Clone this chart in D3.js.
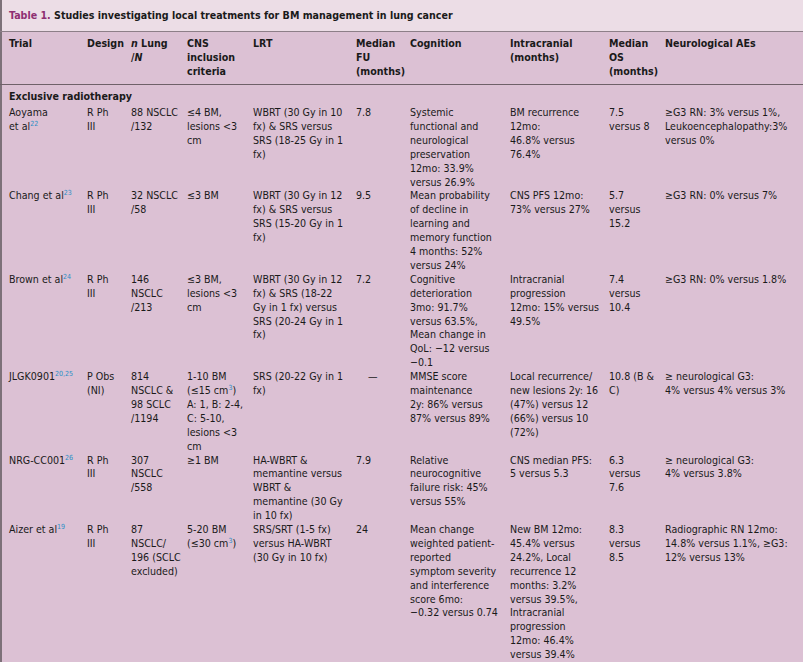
<!DOCTYPE html>
<html><head><meta charset="utf-8">
<script src="https://cdn.jsdelivr.net/npm/d3@7"></script>
<style>body{margin:0;background:#fff}text{font-family:"Liberation Sans Narrow","DejaVu Sans Condensed",sans-serif;font-size:10.6px;fill:#1a1a1a}</style>
</head><body><div id="chart"></div>
<script>
const width = 803, height = 662;

const title = "Studies investigating local treatments for BM management in lung cancer";
const columns = ["Trial", "Design", "n Lung", "CNS", "LRT", "Median FU", "Cognition", "Intracranial", "Median OS", "Neurological AEs"];
const colX = [9, 87, 131, 187, 253, 356, 410, 510, 609, 665];
const headers = [
  ["Trial"], ["Design"], ["_n_ Lung", "/_N_"], ["CNS", "inclusion", "criteria"], ["LRT"],
  ["Median", "FU", "(months)"], ["Cognition"], ["Intracranial", "(months)"], ["Median", "OS", "(months)"], ["Neurological AEs"]
];
const section = "Exclusive radiotherapy";

const rows = [
  [["Aoyama", "et al^{22}"], ["R Ph", "III"], ["88 NSCLC", "/132"], ["≤4 BM,", "lesions <3", "cm"],
   ["WBRT (30 Gy in 10", "fx) & SRS versus", "SRS (18-25 Gy in 1", "fx)"], ["7.8"],
   ["Systemic", "functional and", "neurological", "preservation", "12mo: 33.9%", "versus 26.9%"],
   ["BM recurrence", "12mo:", "46.8% versus", "76.4%"], ["7.5", "versus 8"],
   ["≥G3 RN: 3% versus 1%,", "Leukoencephalopathy:3%", "versus 0%"]],
  [["Chang et al^{23}"], ["R Ph", "III"], ["32 NSCLC", "/58"], ["≤3 BM"],
   ["WBRT (30 Gy in 12", "fx) & SRS versus", "SRS (15-20 Gy in 1", "fx)"], ["9.5"],
   ["Mean probability", "of decline in", "learning and", "memory function", "4 months: 52%", "versus 24%"],
   ["CNS PFS 12mo:", "73% versus 27%"], ["5.7", "versus", "15.2"], ["≥G3 RN: 0% versus 7%"]],
  [["Brown et al^{24}"], ["R Ph", "III"], ["146", "NSCLC", "/213"], ["≤3 BM,", "lesions <3", "cm"],
   ["WBRT (30 Gy in 12", "fx) & SRS (18-22", "Gy in 1 fx) versus", "SRS (20-24 Gy in 1", "fx)"], ["7.2"],
   ["Cognitive", "deterioration", "3mo: 91.7%", "versus 63.5%,", "Mean change in", "QoL: −12 versus", "−0.1"],
   ["Intracranial", "progression", "12mo: 15% versus", "49.5%"], ["7.4", "versus", "10.4"], ["≥G3 RN: 0% versus 1.8%"]],
  [["JLGK0901^{20,25}"], ["P Obs", "(NI)"], ["814", "NSCLC &", "98 SCLC", "/1194"],
   ["1-10 BM", "(≤15 cm^{3})", "A: 1, B: 2-4,", "C: 5-10,", "lesions <3", "cm"],
   ["SRS (20-22 Gy in 1", "fx)"], ["    —"],
   ["MMSE score", "maintenance", "2y: 86% versus", "87% versus 89%"],
   ["Local recurrence/", "new lesions 2y: 16", "(47%) versus 12", "(66%) versus 10", "(72%)"],
   ["10.8 (B &", "C)"], ["≥ neurological G3:", "4% versus 4% versus 3%"]],
  [["NRG-CC001^{26}"], ["R Ph", "III"], ["307", "NSCLC", "/558"], ["≥1 BM"],
   ["HA-WBRT &", "memantine versus", "WBRT &", "memantine (30 Gy", "in 10 fx)"], ["7.9"],
   ["Relative", "neurocognitive", "failure risk: 45%", "versus 55%"],
   ["CNS median PFS:", "5 versus 5.3"], ["6.3", "versus", "7.6"], ["≥ neurological G3:", "4% versus 3.8%"]],
  [["Aizer et al^{19}"], ["R Ph", "III"], ["87", "NSCLC/", "196 (SCLC", "excluded)"], ["5-20 BM", "(≤30 cm^{3})"],
   ["SRS/SRT (1-5 fx)", "versus HA-WBRT", "(30 Gy in 10 fx)"], ["24"],
   ["Mean change", "weighted patient-", "reported", "symptom severity", "and interference", "score 6mo:", "−0.32 versus 0.74"],
   ["New BM 12mo:", "45.4% versus", "24.2%, Local", "recurrence 12", "months: 3.2%", "versus 39.5%,", "Intracranial", "progression", "12mo: 46.4%", "versus 39.4%"],
   ["8.3", "versus", "8.5"], ["Radiographic RN 12mo:", "14.8% versus 1.1%, ≥G3:", "12% versus 13%"]]
];

const lineH = 13.9;
const x = d3.scaleOrdinal().domain(columns).range(colX);

const svg = d3.select("#chart").append("svg").attr("width", width).attr("height", height);
svg.append("rect").attr("width", width).attr("height", height).attr("fill", "#dcc1d4");
svg.append("rect").attr("width", width).attr("height", 31).attr("fill", "#ecdde6");
svg.append("rect").attr("width", 2).attr("height", height).attr("fill", "#7d7179");
svg.append("line").attr("x1", 0).attr("x2", width).attr("y1", 31.5).attr("y2", 31.5).attr("stroke", "#8d7f88");
svg.append("line").attr("x1", 0).attr("x2", width).attr("y1", 84.5).attr("y2", 84.5).attr("stroke", "#6f6169");

const t = svg.append("text").attr("x", 9).attr("y", 19).style("font-weight", "bold");
t.append("tspan").text("Table 1. ").style("fill", "#8e2f72");
t.append("tspan").text(title);

// writes one line: ^{..} superscript in blue, _.._ italic
function writeLine(sel, str) {
  const parts = str.split(/(\^\{[^}]*\}|_[^_]*_)/).filter(s => s.length);
  let shift = 0;
  parts.forEach(p => {
    let ts;
    if (p.startsWith("^{")) {
      ts = sel.append("tspan").text(p.slice(2, -1)).attr("dy", -4).style("font-size", "7px").style("fill", "#2a8fc6");
      shift = 4;
      return;
    } else if (p.startsWith("_")) {
      ts = sel.append("tspan").text(p.slice(1, -1)).style("font-style", "italic");
    } else {
      ts = sel.append("tspan").text(p);
    }
    if (shift) { ts.attr("dy", shift); shift = 0; }
  });
}

function drawCell(lines, col, y0, bold) {
  lines.forEach((ln, i) => {
    const tx = svg.append("text").attr("x", x(col)).attr("y", y0 + i * lineH)
      .attr("xml:space", "preserve");
    if (bold) tx.style("font-weight", "bold");
    writeLine(tx, ln);
  });
}

headers.forEach((h, j) => drawCell(h, columns[j], 47, true));
drawCell([section], columns[0], 100, true);

let y0 = 116;
rows.forEach(r => {
  r.forEach((cell, j) => drawCell(cell, columns[j], y0, false));
  y0 += d3.max(r, c => c.length) * lineH;
});
</script></body></html>
